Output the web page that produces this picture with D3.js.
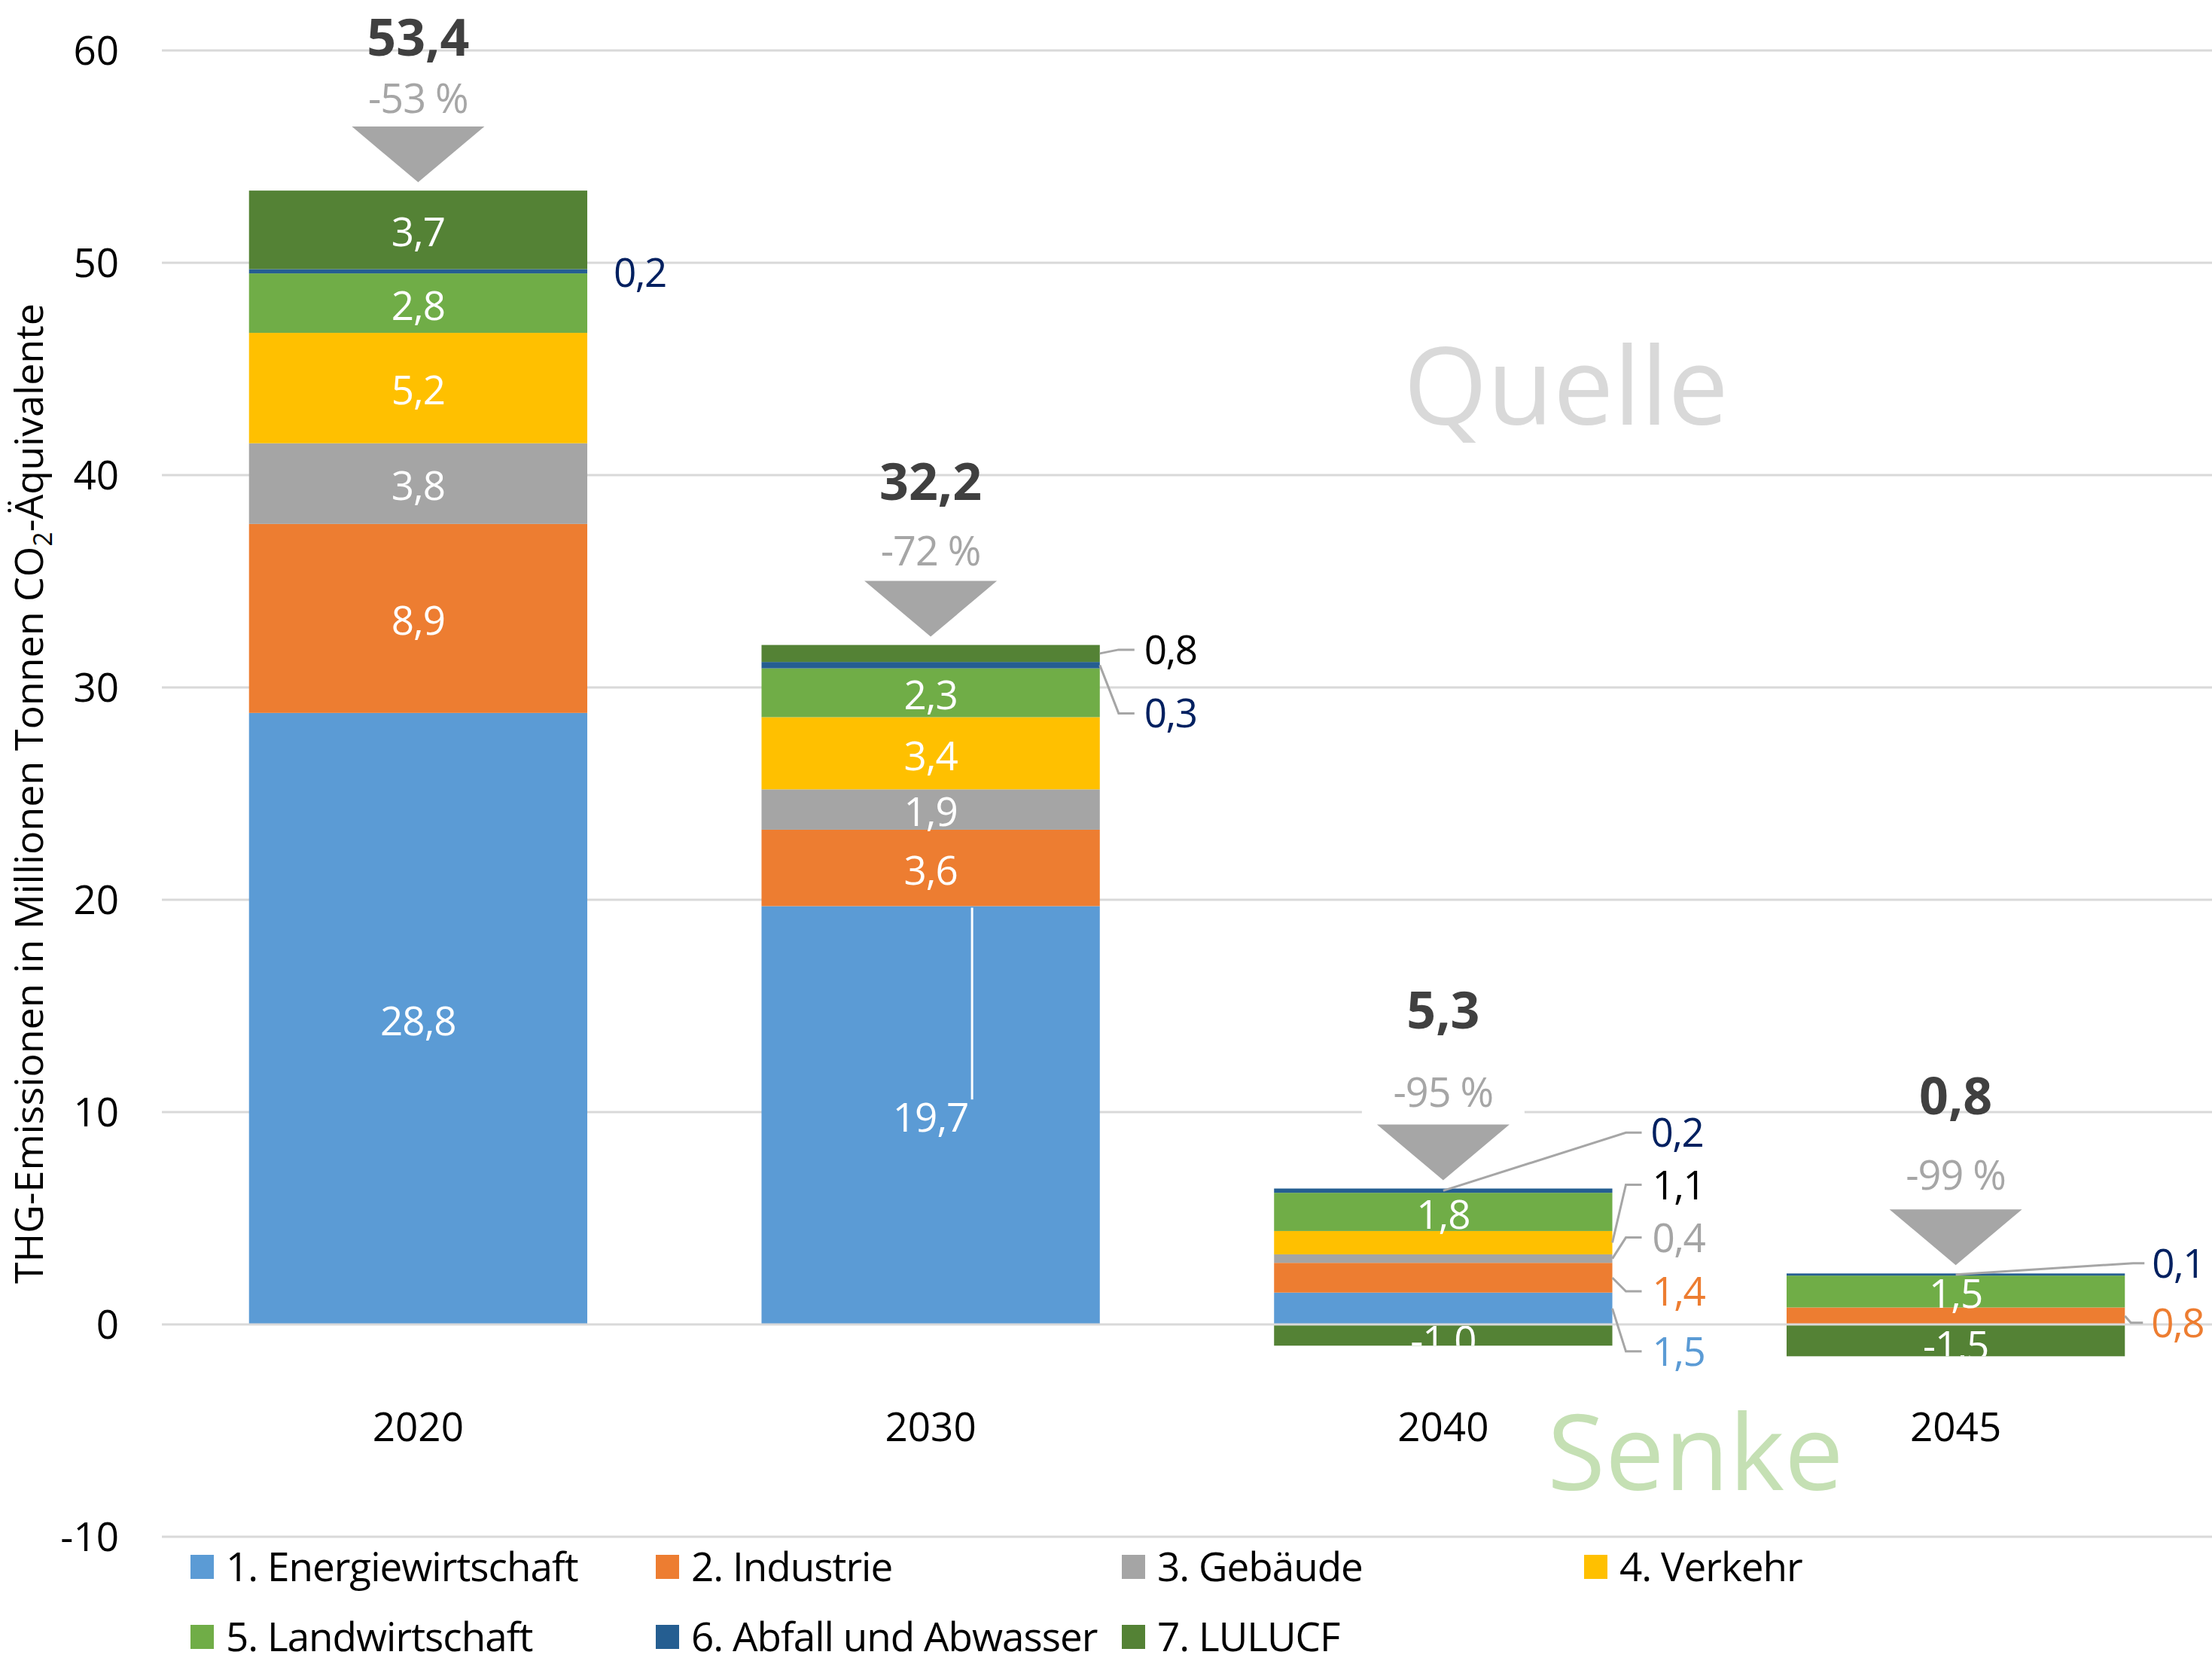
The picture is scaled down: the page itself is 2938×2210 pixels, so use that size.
<!DOCTYPE html>
<html>
<head>
<meta charset="utf-8">
<script src="https://cdn.jsdelivr.net/npm/d3@7"></script>
<style>
  html, body { margin: 0; padding: 0; background: #fff; }
  svg text { font-family: "Open Sans", "Noto Sans", sans-serif; }
</style>
</head>
<body>
<svg id="chart" width="2938" height="2210"></svg>
<script>
// ---------- data ----------
const categories = ["2020", "2030", "2040", "2045"];
const seriesNames = ["1. Energiewirtschaft", "2. Industrie", "3. Gebäude", "4. Verkehr",
                     "5. Landwirtschaft", "6. Abfall und Abwasser", "7. LULUCF"];
const energiewirtschaft = [28.8, 19.7, 1.5, 0];
const industrie         = [8.9, 3.6, 1.4, 0.8];
const gebaeude          = [3.8, 1.9, 0.4, 0];
const verkehr           = [5.2, 3.4, 1.1, 0];
const landwirtschaft    = [2.8, 2.3, 1.8, 1.5];
const abfall            = [0.2, 0.3, 0.2, 0.1];
const lulucf            = [3.7, 0.8, -1.0, -1.5];
const totals            = [53.4, 32.2, 5.3, 0.8];
const changes           = [-53, -72, -95, -99];
const yTicks            = [-10, 0, 10, 20, 30, 40, 50, 60];

const seriesValues = [energiewirtschaft, industrie, gebaeude, verkehr, landwirtschaft, abfall, lulucf];
const colors = ["#5b9bd5", "#ed7d31", "#a5a5a5", "#ffc000", "#70ad47", "#255e91", "#548235"];
const calloutColors = ["#5b9bd5", "#ed7d31", "#a5a5a5", "#000000", "#70ad47", "#002060", "#000000"];

// table for d3.stack
const table = categories.map((c, i) => {
  const row = { cat: c };
  seriesNames.forEach((s, j) => row[s] = seriesValues[j][i]);
  return row;
});

// ---------- layout ----------
const svg = d3.select("#chart");
const plotLeft = 215, plotRight = 2938;
const y = d3.scaleLinear().domain([-10, 60]).range([2041, 67]);
const x = d3.scaleBand().domain(categories).range([plotLeft, plotRight])
  .paddingInner(0.34).paddingOuter(0.17);
const bw = x.bandwidth();

const loc = d3.formatLocale({ decimal: ",", thousands: ".", grouping: [3], currency: ["", "€"], minus: "-" });
const fmt = loc.format(".1f");

const FS = 53;

// gridlines (except zero, drawn on top)
svg.append("g").selectAll("line").data(yTicks.filter(t => t !== 0)).join("line")
  .attr("x1", plotLeft).attr("x2", plotRight)
  .attr("y1", d => y(d)).attr("y2", d => y(d))
  .attr("stroke", "#d9d9d9").attr("stroke-width", 3);

// y axis tick labels
svg.append("g").selectAll("text").data(yTicks).join("text")
  .attr("x", 158).attr("y", d => y(d)).attr("dy", "0.36em")
  .attr("text-anchor", "end").attr("font-size", FS).attr("fill", "#000")
  .text(d => d);

// y axis title
const yt = svg.append("text")
  .attr("transform", `translate(57, ${(y(60) + y(-10)) / 2}) rotate(-90)`)
  .attr("text-anchor", "middle").attr("font-size", 52).attr("fill", "#000");
yt.append("tspan").text("THG-Emissionen in Millionen Tonnen CO");
yt.append("tspan").attr("font-size", 34).attr("dy", 12).text("2");
yt.append("tspan").attr("dy", -12).text("-Äquivalente");

// background words
svg.append("text").attr("x", 2080).attr("y", 564).attr("text-anchor", "middle")
  .attr("font-size", 143).attr("fill", "#d9d9d9").text("Quelle");
svg.append("text").attr("x", 2252).attr("y", 1979).attr("text-anchor", "middle")
  .attr("font-size", 140).attr("fill", "#c5e0b4").text("Senke");

// stacked bars
const stack = d3.stack().keys(seriesNames).offset(d3.stackOffsetDiverging);
const stacked = stack(table);

const defs = svg.append("defs");
const gBars = svg.append("g");
stacked.forEach((layer, j) => {
  layer.forEach((d, i) => {
    const v = seriesValues[j][i];
    if (v === 0) return;
    const cat = categories[i];
    const y0 = y(Math.max(d[0], d[1])), y1 = y(Math.min(d[0], d[1]));
    gBars.append("rect")
      .attr("x", x(cat)).attr("width", bw)
      .attr("y", y0).attr("height", y1 - y0)
      .attr("fill", colors[j]);
  });
});

// zero line on top
svg.append("line").attr("x1", plotLeft).attr("x2", plotRight)
  .attr("y1", y(0)).attr("y2", y(0)).attr("stroke", "#d9d9d9").attr("stroke-width", 3);

// callout config (layout only): which segments get outside labels
const callouts = [
  { cat: "2020", s: 5, dy: 2,   anchor: "none", lx: 35 },
  { cat: "2030", s: 6, dy: -5,  anchor: "edge", knee: 25, end: 46, lx: 59 },
  { cat: "2030", s: 5, dy: 64,  anchor: "edge", knee: 25, end: 46, lx: 59 },
  { cat: "2040", s: 5, dy: -77, anchor: "top",  knee: 18, end: 39, lx: 51 },
  { cat: "2040", s: 3, dy: -77, anchor: "edge", knee: 18, end: 39, lx: 53 },
  { cat: "2040", s: 2, dy: -28, anchor: "edge", knee: 18, end: 39, lx: 53 },
  { cat: "2040", s: 1, dy: 18,  anchor: "edge", knee: 18, end: 39, lx: 53 },
  { cat: "2040", s: 0, dy: 57,  anchor: "edge", knee: 18, end: 39, lx: 53 },
  { cat: "2045", s: 5, dy: -15, anchor: "top",  knee: 11, end: 26, lx: 36 },
  { cat: "2045", s: 1, dy: 9,   anchor: "edge", knee: 8,  end: 24, lx: 35 }
];
const isCallout = (ci, s) => callouts.some(c => c.cat === categories[ci] && c.s === s);

// inside labels
const gLab = svg.append("g");
stacked.forEach((layer, j) => {
  layer.forEach((d, i) => {
    const v = seriesValues[j][i];
    if (v === 0 || isCallout(i, j)) return;
    const cat = categories[i];
    const cy = y((d[0] + d[1]) / 2);
    const top = y(Math.max(d[0], d[1])), bot = y(Math.min(d[0], d[1]));
    const t = gLab.append("text")
      .attr("x", x(cat) + bw / 2).attr("y", cy + (v < 0 ? 7 : 3)).attr("dy", "0.36em")
      .attr("text-anchor", "middle").attr("font-size", FS).attr("fill", "#fff")
      .attr("letter-spacing", -1)
      .text(fmt(v));
    if (v < 0) {
      const id = `clip-${cat}-${j}`;
      defs.append("clipPath").attr("id", id).append("rect")
        .attr("x", x(cat)).attr("width", bw).attr("y", top + 2).attr("height", bot - top - 2);
      t.attr("clip-path", `url(#${id})`);
    }
  });
});

// white leader line in 2030 energy segment
{
  const i = 1, cat = categories[i];
  const segTop = y(energiewirtschaft[i]);
  const cy = y(energiewirtschaft[i] / 2);
  svg.append("line")
    .attr("x1", x(cat) + bw / 2 + 55).attr("x2", x(cat) + bw / 2 + 55)
    .attr("y1", segTop + 2).attr("y2", cy - 21)
    .attr("stroke", "#fff").attr("stroke-width", 3);
}

// outside callouts
const gCall = svg.append("g");
callouts.forEach(c => {
  const i = categories.indexOf(c.cat);
  const d = stacked[c.s][i];
  const v = seriesValues[c.s][i];
  const cy = y((d[0] + d[1]) / 2);
  const right = x(c.cat) + bw;
  const ly = cy + c.dy;
  if (c.anchor !== "none") {
    const ax = c.anchor === "top" ? x(c.cat) + bw / 2 : right;
    gCall.append("polyline")
      .attr("points", [[ax, cy], [right + c.knee, ly], [right + c.end, ly]].map(p => p.join(",")).join(" "))
      .attr("fill", "none").attr("stroke", "#a6a6a6").attr("stroke-width", 3);
  }
  gCall.append("text")
    .attr("x", right + c.lx).attr("y", ly).attr("dy", "0.36em")
    .attr("font-size", FS).attr("fill", calloutColors[c.s])
    .attr("letter-spacing", -1.5)
    .text(fmt(v));
});

// totals, change % and triangles (vertical offsets above bar top, layout only)
const totalOffset = [-204, -217, -237, -236];
const pctOffset = [-123, -125, -128, -131];
const gTot = svg.append("g");
categories.forEach((cat, i) => {
  const posTop = d3.max(stacked, layer => layer[i][1]);
  const top = y(posTop);
  const cx = x(cat) + bw / 2;
  gTot.append("polygon")
    .attr("points", [[cx - 88, top - 85], [cx + 88, top - 85], [cx, top - 11]].map(p => p.join(",")).join(" "))
    .attr("fill", "#a6a6a6");
  gTot.append("rect").attr("x", cx - 108).attr("y", top + pctOffset[i] - 32).attr("width", 216).attr("height", 64)
    .attr("fill", "#fff");
  gTot.append("text").attr("x", cx).attr("y", top + pctOffset[i]).attr("dy", "0.36em")
    .attr("text-anchor", "middle").attr("font-size", 54).attr("fill", "#a6a6a6")
    .attr("letter-spacing", -1)
    .text(`${changes[i]} %`);
  gTot.append("text").attr("x", cx).attr("y", top + totalOffset[i]).attr("dy", "0.36em")
    .attr("text-anchor", "middle").attr("font-size", 68).attr("font-weight", "bold").attr("fill", "#404040")
    .text(fmt(totals[i]));
});

// x axis labels
svg.append("g").selectAll("text").data(categories).join("text")
  .attr("x", d => x(d) + bw / 2).attr("y", 1895).attr("dy", "0.36em")
  .attr("text-anchor", "middle").attr("font-size", FS).attr("fill", "#000")
  .text(d => d);

// legend
const legCols = [253, 871, 1490, 2104];
const legRows = [2081, 2174];
const gLeg = svg.append("g");
seriesNames.forEach((s, j) => {
  const cx = legCols[j % 4], cy = legRows[Math.floor(j / 4)];
  gLeg.append("rect").attr("x", cx).attr("y", cy - 16).attr("width", 31).attr("height", 32).attr("fill", colors[j]);
  gLeg.append("text").attr("x", cx + 47).attr("y", cy).attr("dy", "0.36em")
    .attr("font-size", FS).attr("fill", "#000").attr("letter-spacing", -1).text(s);
});
</script>
</body>
</html>
